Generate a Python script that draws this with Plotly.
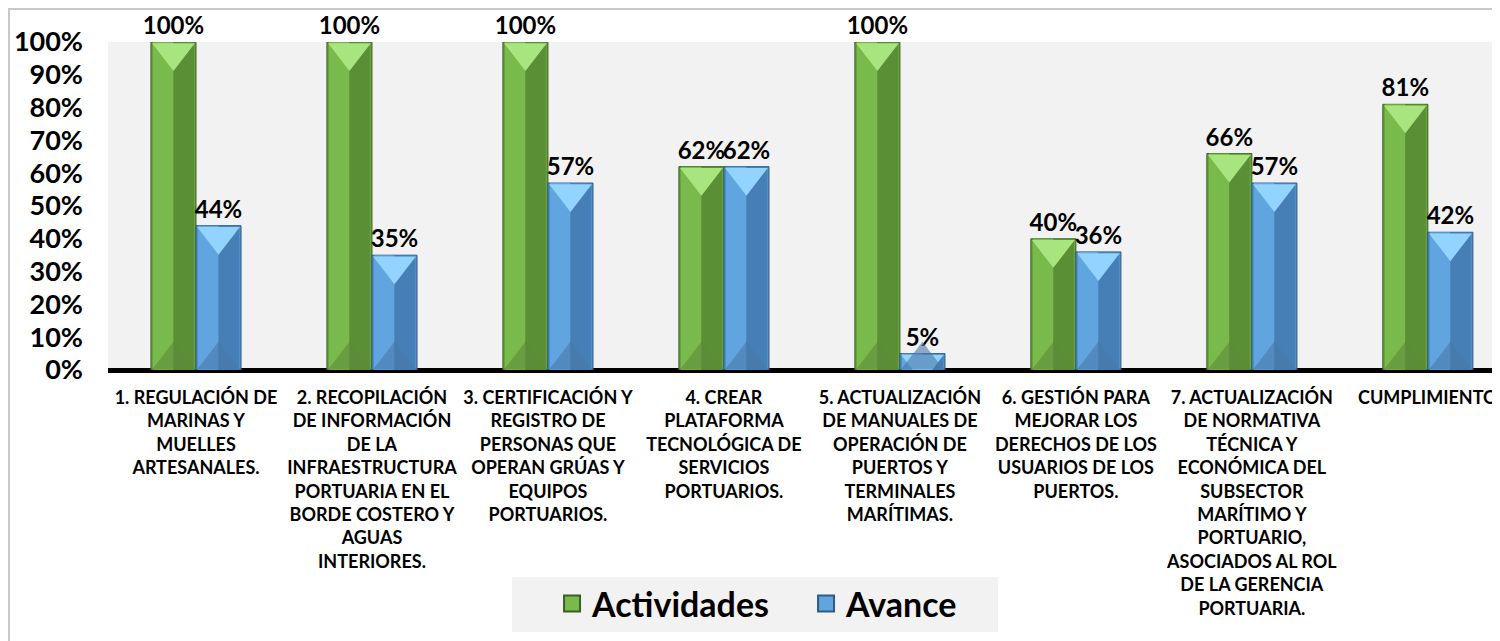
import plotly.graph_objects as go

categories = [
    '1. REGULACIÓN DE<br>MARINAS Y<br>MUELLES<br>ARTESANALES.',
    '2. RECOPILACIÓN<br>DE INFORMACIÓN<br>DE LA<br>INFRAESTRUCTURA<br>PORTUARIA EN EL<br>BORDE COSTERO Y<br>AGUAS<br>INTERIORES.',
    '3. CERTIFICACIÓN Y<br>REGISTRO DE<br>PERSONAS QUE<br>OPERAN GRÚAS Y<br>EQUIPOS<br>PORTUARIOS.',
    '4. CREAR<br>PLATAFORMA<br>TECNOLÓGICA DE<br>SERVICIOS<br>PORTUARIOS.',
    '5. ACTUALIZACIÓN<br>DE MANUALES DE<br>OPERACIÓN DE<br>PUERTOS Y<br>TERMINALES<br>MARÍTIMAS.',
    '6. GESTIÓN PARA<br>MEJORAR LOS<br>DERECHOS DE LOS<br>USUARIOS DE LOS<br>PUERTOS.',
    '7. ACTUALIZACIÓN<br>DE NORMATIVA<br>TÉCNICA Y<br>ECONÓMICA DEL<br>SUBSECTOR<br>MARÍTIMO Y<br>PORTUARIO,<br>ASOCIADOS AL ROL<br>DE LA GERENCIA<br>PORTUARIA.',
    'CUMPLIMIENTO',
]
actividades = [100, 100, 100, 62, 100, 40, 66, 81]
avance = [44, 35, 57, 62, 5, 36, 57, 42]

FONT = 'Lato'
BW = 0.256  # bar width (in category units)

# colours: base, left face, right face, top bevel, bottom bevel, outline
series = [
    ('Actividades', actividades, -BW, ('#68a33e', '#7aba4c', '#5a8f35', '#a9e57f', '#5c8a3a', '#3b5f24')),
    ('Avance', avance, 0.0, ('#4f8fcb', '#60a4e0', '#467fb6', '#92d4ff', '#4a78a6', '#2f5a85')),
]

x = list(range(len(categories)))
fig = go.Figure()

for name, vals, off, cols in series:
    base, left, right, top, bottom, edge = cols
    # full bar with value label
    fig.add_trace(go.Bar(
        x=x, y=vals, name=name, offset=off, width=BW, showlegend=False,
        marker=dict(color=base, line=dict(color=edge, width=1)),
        text=[f'{v}%' for v in vals], textposition='outside',
        textfont=dict(family=FONT, size=24, color='black'),
        texttemplate='<b>%{text}</b>', constraintext='none', cliponaxis=False,
    ))
    # left / right faces
    fig.add_trace(go.Bar(x=x, y=vals, offset=off + 0.012, width=BW / 2 - 0.012,
                         marker=dict(color=left, line=dict(width=0)),
                         showlegend=False, hoverinfo='skip'))
    fig.add_trace(go.Bar(x=x, y=vals, offset=off + BW / 2, width=BW / 2 - 0.012,
                         marker=dict(color=right, line=dict(width=0)),
                         showlegend=False, hoverinfo='skip'))
    # top and bottom bevels
    cx = [i + off + BW / 2 for i in x]
    fig.add_trace(go.Scatter(x=cx, y=[v - 3.2 for v in vals], mode='markers',
                             marker=dict(symbol='triangle-down', size=37, color=top, line=dict(width=0)),
                             showlegend=False, hoverinfo='skip'))
    fig.add_trace(go.Scatter(x=cx, y=[3.0] * len(vals), mode='markers',
                             marker=dict(symbol='triangle-up', size=37, color=bottom, opacity=0.6,
                                         line=dict(width=0)),
                             showlegend=False, hoverinfo='skip'))
    # legend entry
    fig.add_trace(go.Scatter(x=[None], y=[None], mode='markers', name=f'<b>{name}</b>',
                             marker=dict(symbol='square', size=24, color=left,
                                         line=dict(color=edge, width=2))))

fig.update_layout(
    barmode='overlay',
    width=1492,
    height=633,
    margin=dict(l=100, r=0, t=34, b=271),
    plot_bgcolor='#f2f2f2',
    paper_bgcolor='white',
    font=dict(family=FONT, color='black'),
    legend=dict(
        orientation='h', x=0.319, xanchor='left', y=-0.713, yanchor='middle',
        bgcolor='rgba(0,0,0,0)', font=dict(family=FONT, size=34, color='black'),
        traceorder='normal', itemsizing='trace', entrywidth=209,
    ),
    xaxis=dict(
        range=[-0.5, 7.41], tickvals=x, ticktext=[f'<b>{c}</b>' for c in categories],
        tickfont=dict(family=FONT, size=18, color='black'),
        showgrid=False, zeroline=False, showline=False, ticks='', ticklabelstandoff=15,
    ),
    yaxis=dict(
        range=[0, 100], tickvals=list(range(0, 101, 10)),
        ticktext=[f'<b>{v}%</b>' for v in range(0, 101, 10)],
        tickfont=dict(family=FONT, size=27, color='black'),
        showgrid=False, zeroline=True, zerolinecolor='black', zerolinewidth=5,
        showline=False, ticks='', ticklabelstandoff=24,
    ),
    shapes=[
        # outer chart border
        dict(type='rect', xref='paper', yref='paper', x0=-0.0711, x1=1.2, y0=-2, y1=1.1006,
             line=dict(color='#c8c8c8', width=2), fillcolor='rgba(0,0,0,0)', layer='below'),
        # legend background box
        dict(type='rect', xref='paper', yref='paper', x0=0.2902, x1=0.6394, y0=-0.799, y1=-0.631,
             line=dict(width=0), fillcolor='#f2f2f2', layer='below'),
    ],
)

fig.write_html("out.html")
